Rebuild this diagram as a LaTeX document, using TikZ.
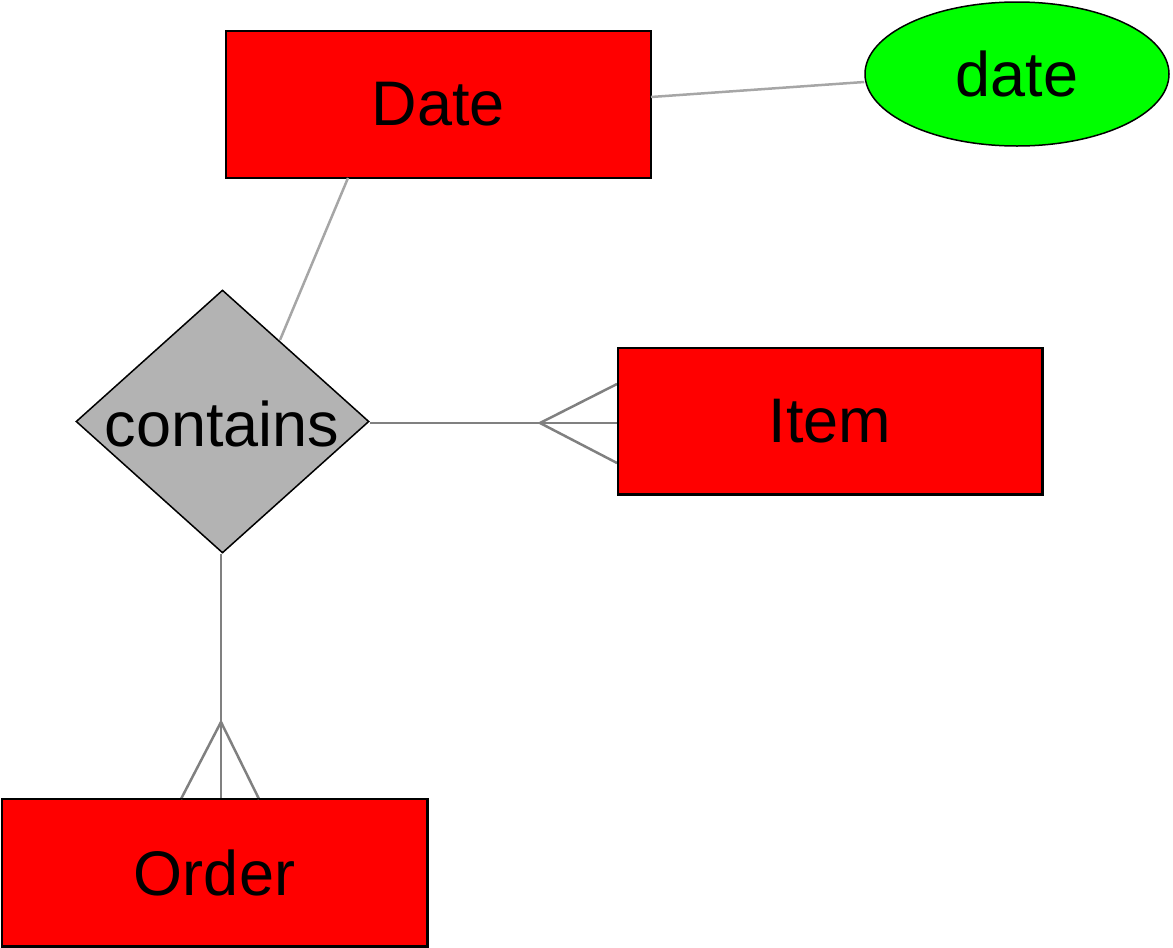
\documentclass[tikz,border=0pt]{standalone}
\usepackage{fontspec}
\setmainfont{Liberation Sans}
\usetikzlibrary{shapes.geometric}
\definecolor{entityred}{RGB}{255,0,0}
\definecolor{attrgreen}{RGB}{0,255,0}
\definecolor{relgray}{RGB}{179,179,179}
\definecolor{linklight}{RGB}{166,166,166}
\definecolor{linkdark}{RGB}{128,128,128}
\begin{document}
\begin{tikzpicture}[x=1pt,y=-1pt,
  lbl/.style={font=\fontsize{63}{75}\selectfont},
  entity/.style={draw=black,line width=1.5pt,fill=entityred,rectangle,inner sep=0pt,lbl},
  attr/.style={draw=black,line width=1.5pt,fill=attrgreen,ellipse,inner sep=0pt,lbl},
  rel/.style={draw=black,line width=1.5pt,fill=relgray,diamond,inner sep=0pt,lbl},
  light/.style={draw=linklight,line width=2.5pt},
  heavy/.style={draw=linkdark,line width=2.5pt}]
\useasboundingbox (0,0) rectangle (1173,948);
% entities
\node[entity,minimum width=425pt,minimum height=147pt] (date) at (438.5,104.5) {Date};
\node[entity,minimum width=424pt,minimum height=146pt] (item) at (830,421) {Item};
\node[entity,minimum width=425pt,minimum height=147pt] (order) at (214.5,872.5) {Order};
% attribute
\node[attr,minimum width=304pt,minimum height=144pt] (dattr) at (1017,74) {date};
% relationship
\node[rel,minimum width=293pt,minimum height=263pt] (contains) at (222.5,421.5) {};
\node[lbl] (containslbl) at (222,424) {contains};
% plain links
\draw[light] (651,97) -- ([yshift=-8pt]dattr.west);
\draw[light] (348,178) -- (280,340);
% contains -- Item, many end at Item
\coordinate (ifoot) at (540,423);
\draw[heavy] (contains.east |- ifoot) -- (item.west |- ifoot);
\draw[heavy] (ifoot) -- (617,384);
\draw[heavy] (ifoot) -- (617,463);
% contains -- Order, many end at Order
\coordinate (ofoot) at (221,722);
\draw[heavy] (ofoot |- contains.south) -- (ofoot |- order.north);
\draw[heavy] (ofoot) -- (181,799);
\draw[heavy] (ofoot) -- (259,799);
% redraw entity outlines over link ends
\draw[black,line width=1.5pt] (item.south west) rectangle (item.north east);
\draw[black,line width=1.5pt] (order.south west) rectangle (order.north east);
\end{tikzpicture}
\end{document}
